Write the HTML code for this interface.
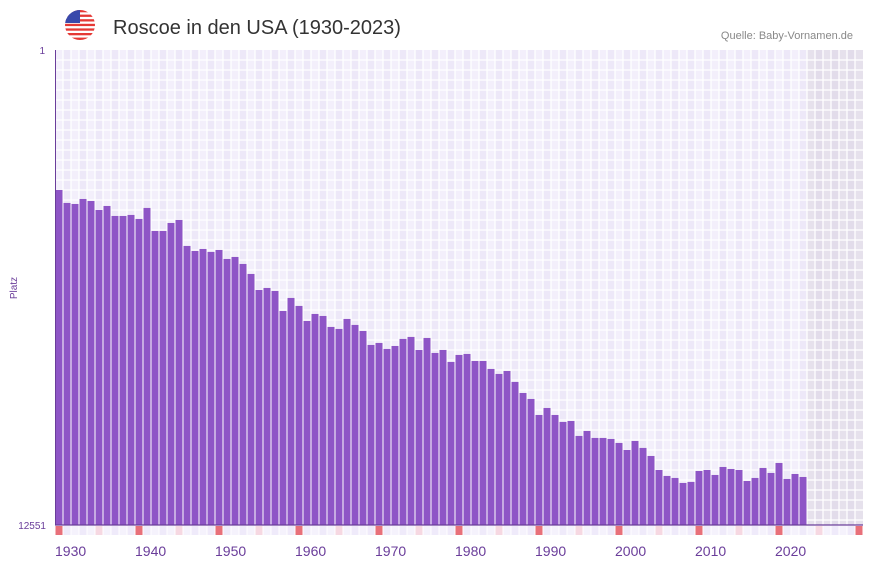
<!DOCTYPE html>
<html><head><meta charset="utf-8">
<style>
body{margin:0;background:#fff;width:873px;height:567px;overflow:hidden;font-family:"Liberation Sans",sans-serif}
svg{display:block}
</style></head>
<body>
<svg id="chart" width="873" height="567" xmlns="http://www.w3.org/2000/svg">
  <g>
    <clipPath id="fc"><circle cx="80" cy="25" r="15"/></clipPath>
    <g clip-path="url(#fc)">
      <rect x="65" y="10" width="30" height="30" fill="#fff"/>
      <rect x="65" y="10" width="30" height="2.3" fill="#e53935"/>
      <rect x="65" y="14.6" width="30" height="2.3" fill="#e53935"/>
      <rect x="65" y="19.2" width="30" height="2.3" fill="#e53935"/>
      <rect x="65" y="23.8" width="30" height="2.3" fill="#e53935"/>
      <rect x="65" y="28.4" width="30" height="2.3" fill="#e53935"/>
      <rect x="65" y="33" width="30" height="2.3" fill="#e53935"/>
      <rect x="65" y="37.6" width="30" height="2.4" fill="#e53935"/>
      <rect x="65" y="10" width="15" height="13" fill="#3949ab"/>
    </g>
  </g>
  <text x="113" y="34" font-size="20" fill="#333">Roscoe in den USA (1930-2023)</text>
  <text x="853" y="39" font-size="11" fill="#888" text-anchor="end">Quelle: Baby-Vornamen.de</text>
  <text x="17" y="288" font-size="10" fill="#6a3d9a" text-anchor="middle" transform="rotate(-90 17 288)">Platz</text>
  <text x="45" y="54" font-size="10" fill="#6a3d9a" text-anchor="end">1</text>
  <text x="46" y="529" font-size="10" fill="#6a3d9a" text-anchor="end">12551</text>
  <g id="grid"></g>
  <g id="bars"></g>
  <g id="markers"></g>
  <g id="xlabels"></g>
  <line x1="55.5" y1="50" x2="55.5" y2="525" stroke="#6a3d9a" stroke-width="1"/>
  <line x1="55" y1="525" x2="863" y2="525" stroke="#6a3d9a" stroke-width="1.2"/>
</svg>
<script>
const firstYear = 1930;
const lastDataYear = 2023;
const endYear = 2030;
const rankMin = 1;
const rankMax = 12551;
const ranks = [3699,4042,4069,3937,3990,4227,4122,4386,4386,4359,
4465,4174,4782,4782,4571,4491,5178,5311,5258,5337,
5284,5522,5469,5654,5918,6341,6288,6367,6896,6552,
6763,7160,6975,7028,7318,7371,7107,7265,7424,7794,
7741,7900,7821,7635,7582,7926,7609,8006,7926,8244,
8058,8032,8217,8217,8428,8560,8481,8772,9063,9221,
9644,9459,9644,9829,9802,10198,10066,10251,10251,10278,
10383,10568,10330,10515,10727,11097,11255,11308,11440,11414,
11123,11097,11229,11018,11071,11097,11388,11308,11044,11176,
10912,11335,11203,11282];
const tickYears = [1930,1940,1950,1960,1970,1980,1990,2000,2010,2020];

const NS='http://www.w3.org/2000/svg';
const X0=55, BW=8, Y0=50, Y1=525;
function xs(year){return X0+(year-firstYear)*BW;}
function ys(rank){return Y0+(rank-rankMin)/(rankMax-rankMin)*(Y1-Y0);}
function mk(tag,attrs,parent){const e=document.createElementNS(NS,tag);for(const k in attrs)e.setAttribute(k,attrs[k]);parent.appendChild(e);return e;}

const grid=document.getElementById('grid');
for(let y=firstYear;y<=endYear;y++){
  const future=y>lastDataYear;
  const fill=future?((y%2)?'#e2dcea':'#e6e1ec'):((y%2)?'#ede8f8':'#f3effb');
  const c=mk('rect',{x:xs(y),y:Y0,width:BW,height:Y1-Y0,fill:fill},grid);
  
  
}
for(let gy=Y0+10;gy<Y1;gy+=10){
  const l=mk('line',{x1:X0,x2:863,y1:gy,y2:gy,stroke:'#fff','stroke-width':1.3},grid);
  
  
}
for(let y=firstYear+1;y<=endYear;y++){
  const l=mk('line',{x1:xs(y),x2:xs(y),y1:Y0,y2:Y1,stroke:'#fff','stroke-width':1.3},grid);
  
  
}

const bars=document.getElementById('bars');
ranks.forEach((r,i)=>{
  const top=ys(r);
  const b=mk('rect',{x:xs(firstYear+i)+0.5,y:top,width:BW-1,height:Y1-top,fill:'#8e55c6'},bars);
  
  
});

const markers=document.getElementById('markers');
for(let y=firstYear;y<=endYear;y++){
  let fill=(y%2)?'#efeafa':'#f5f2fc';
  if(y%10===0)fill='#e8707a';else if(y%5===0)fill='#f6d8e2';
  const m=mk('rect',{x:xs(y)+0.5,y:526,width:BW-1,height:9,fill:fill},markers);
  
  
}

const xl=document.getElementById('xlabels');
tickYears.forEach(t=>{
  const e=mk('text',{x:xs(t),y:556,'font-size':14,fill:'#6a3d9a'},xl);
  e.textContent=t;
  
  
});
</script>
</body></html>
